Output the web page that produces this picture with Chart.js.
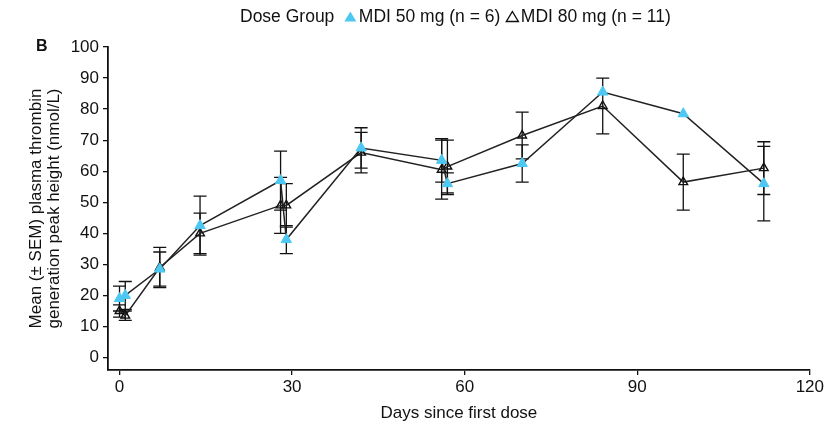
<!DOCTYPE html>
<html>
<head>
<meta charset="utf-8">
<script src="https://cdn.jsdelivr.net/npm/chart.js@4.4.1/dist/chart.umd.min.js"></script>
<style>
  html, body { margin: 0; padding: 0; background: #fff; }
  #wrap { width: 826px; height: 424px; position: relative; }
</style>
</head>
<body>
<div id="wrap"><canvas id="peakChart" width="826" height="424"></canvas></div>
<script>
// Days of sampling (same schedule for both dose groups)
const days = [0, 1, 7, 14, 28, 29, 42, 56, 57, 70, 84, 98, 112];

// Mean peak height (nmol/L) and SEM per group
const mean50 = [19, 20, 28.5, 42.5, 57, 38, 67.5, 63.5, 56, 62.5, 85.5, 78.5, 56];
const sem50  = [4, 4.5, 5.5, 9.5, 9.5, 4.5, 6.5, 7, 3.5, 6, 0, 0, 12];
const mean80 = [15, 13.5, 29, 40, 49, 49, 66, 60.5, 61.5, 71.5, 81, 56.5, 61];
const sem80  = [2, 1.5, 6.5, 6.5, 9, 7, 6.5, 9.5, 8.5, 7.5, 9, 9, 8.5];

const xTicks = [0, 30, 60, 90, 120];
const yTicks = [0, 10, 20, 30, 40, 50, 60, 70, 80, 90, 100];

const CYAN = '#4cc8f2';
const FONT = '"Liberation Sans", Arial, sans-serif';

function toPoints(xs, ys) {
    return xs.map((x, i) => ({ x: x, y: ys[i] }));
}

// Vertical error bars with caps, drawn under the markers
const errorBars = {
    id: 'errorBars',
    beforeDatasetsDraw(chart) {
        const ctx = chart.ctx;
        const yScale = chart.scales.y;
        ctx.save();
        ctx.strokeStyle = '#111';
        ctx.lineWidth = 1.3;
        chart.data.datasets.forEach((ds, di) => {
            const meta = chart.getDatasetMeta(di);
            meta.data.forEach((pt, i) => {
                const sem = ds.sem[i];
                if (!sem) return;
                const v = ds.data[i].y;
                const top = yScale.getPixelForValue(v + sem);
                const bot = yScale.getPixelForValue(v - sem);
                const x = pt.x;
                ctx.beginPath();
                ctx.moveTo(x, top); ctx.lineTo(x, bot);
                ctx.moveTo(x - 6.5, top); ctx.lineTo(x + 6.5, top);
                ctx.moveTo(x - 6.5, bot); ctx.lineTo(x + 6.5, bot);
                ctx.stroke();
            });
        });
        ctx.restore();
    }
};

// Inline legend row and panel letter
const headerText = {
    id: 'headerText',
    afterDraw(chart) {
        const ctx = chart.ctx;
        ctx.save();
        ctx.fillStyle = '#111';
        ctx.textBaseline = 'middle';
        ctx.font = '17.5px ' + FONT;
        let x = 240;
        const y = 17;
        ctx.fillText('Dose Group', x, y);
        x += ctx.measureText('Dose Group').width + 16;
        const tri = (cx, fill) => {
            ctx.beginPath();
            ctx.moveTo(cx, y - 5.5);
            ctx.lineTo(cx + 6, y + 4.5);
            ctx.lineTo(cx - 6, y + 4.5);
            ctx.closePath();
            if (fill) { ctx.fillStyle = CYAN; ctx.fill(); }
            else { ctx.strokeStyle = '#111'; ctx.lineWidth = 1.4; ctx.stroke(); }
            ctx.fillStyle = '#111';
        };
        tri(x, true);
        x += 8.5;
        const l1 = chart.data.datasets[0].label;
        ctx.fillText(l1, x, y);
        x += ctx.measureText(l1).width + 12;
        tri(x, false);
        x += 8.5;
        ctx.fillText(chart.data.datasets[1].label, x, y);

        ctx.font = 'bold 16px ' + FONT;
        ctx.fillText('B', 36, 47);
        ctx.restore();
    }
};

new Chart(document.getElementById('peakChart'), {
    type: 'line',
    data: {
        datasets: [{
            label: 'MDI 50 mg (n = 6)',
            data: toPoints(days, mean50),
            sem: sem50,
            borderColor: '#222',
            borderWidth: 1.5,
            pointStyle: 'triangle',
            pointRadius: 6,
            pointBackgroundColor: CYAN,
            pointBorderColor: CYAN,
            pointBorderWidth: 1
        }, {
            label: 'MDI 80 mg (n = 11)',
            data: toPoints(days, mean80),
            sem: sem80,
            borderColor: '#222',
            borderWidth: 1.5,
            pointStyle: 'triangle',
            pointRadius: 5,
            pointBackgroundColor: 'rgba(255,255,255,0)',
            pointBorderColor: '#111',
            pointBorderWidth: 1.4
        }]
    },
    options: {
        responsive: false,
        animation: false,
        layout: { padding: { top: 47, right: 16, left: 0, bottom: 0 } },
        plugins: {
            legend: { display: false },
            tooltip: { enabled: false }
        },
        scales: {
            x: {
                type: 'linear',
                min: -2,
                max: 120,
                afterBuildTicks: (s) => { s.ticks = xTicks.map(v => ({ value: v })); },
                afterFit: (s) => { s.height = 54; },
                ticks: { color: '#111', font: { family: FONT, size: 17 }, padding: 2 },
                grid: { drawOnChartArea: false, tickLength: 5, color: '#111', lineWidth: 1.3 },
                border: { color: '#111', width: 1.8 },
                title: {
                    display: true,
                    text: 'Days since first dose',
                    color: '#111',
                    font: { family: FONT, size: 17 },
                    padding: { top: 0, bottom: 0 }
                }
            },
            y: {
                min: -4,
                max: 100,
                afterBuildTicks: (s) => { s.ticks = yTicks.map(v => ({ value: v })); },
                afterFit: (s) => { s.width = 108; },
                ticks: { color: '#111', font: { family: FONT, size: 17 }, padding: 4 },
                grid: { drawOnChartArea: false, tickLength: 5, color: '#111', lineWidth: 1.3 },
                border: { color: '#111', width: 1.8 },
                title: {
                    display: true,
                    text: ['Mean (\u00b1 SEM) plasma thrombin', 'generation peak height (nmol/L)'],
                    color: '#111',
                    font: { family: FONT, size: 17, lineHeight: 1.07 },
                    padding: { top: 27, bottom: 0 }
                }
            }
        }
    },
    plugins: [errorBars, headerText]
});
</script>
</body>
</html>
